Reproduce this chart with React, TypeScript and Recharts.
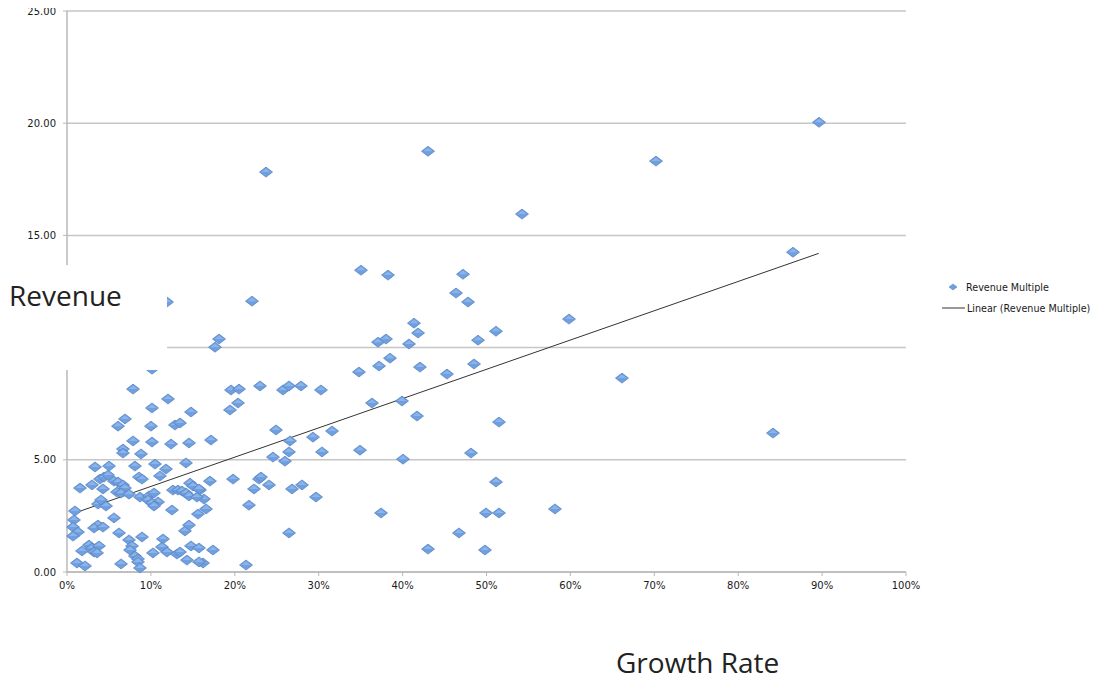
import React from "react";
import {
  ScatterChart,
  Scatter,
  XAxis,
  YAxis,
  CartesianGrid,
  ReferenceLine,
  Legend,
} from "recharts";

// Growth rate (%) of each company
const growthRate: number[] = [
  23.72, 43.03, 70.2, 89.63, 54.23, 86.53, 35.04, 38.26, 47.2, 46.37,
  47.8, 22.05, 11.92, 41.36, 59.83, 51.13, 41.84, 37.07, 38.02, 18.12,
  17.64, 40.76, 48.99, 38.5, 42.07, 37.19, 48.51, 45.29, 34.8, 66.15,
  10.13, 19.55, 20.5, 23.0, 25.74, 26.46, 27.89, 30.27, 20.38, 19.43,
  36.35, 39.93, 41.72, 51.49, 17.16, 24.91, 26.58, 29.32, 31.59, 26.46,
  30.39, 34.92, 24.55, 25.98, 40.05, 48.15, 17.04, 19.79, 22.88, 23.12,
  22.29, 24.08, 26.82, 28.01, 29.68, 51.13, 15.85, 16.33, 16.57, 21.69,
  37.43, 49.94, 51.49, 26.46, 46.72, 43.03, 49.82, 17.4, 16.21, 21.34,
  84.15, 58.16, 7.87, 12.04, 10.13, 14.78, 6.91, 6.08, 12.87, 13.47,
  10.01, 14.54, 12.4, 7.87, 6.67, 6.67, 8.82, 10.13, 14.18, 3.34,
  5.01, 8.1, 10.49, 11.8, 1.55, 2.98, 3.93, 4.41, 4.89, 5.6,
  6.08, 6.67, 6.91, 8.58, 8.94, 11.08, 4.29, 5.96, 6.44, 3.69,
  4.05, 4.65, 7.39, 8.7, 9.77, 10.37, 10.85, 9.65, 10.13, 10.37,
  12.63, 13.23, 13.71, 14.18, 14.66, 15.02, 15.73, 14.54, 15.49, 12.51,
  0.95, 0.83, 0.72, 1.31, 0.72, 3.69, 3.22, 4.29, 5.6, 6.2,
  8.94, 14.06, 15.61, 14.54, 1.79, 2.62, 2.98, 3.81, 3.22, 3.58,
  1.19, 2.15, 6.44, 7.39, 7.75, 7.51, 8.1, 8.46, 8.46, 8.7,
  10.25, 11.44, 11.32, 11.92, 13.11, 13.47, 14.78, 15.73, 14.3, 15.73,
];

// Revenue multiple of each company
const revenueMultiple: number[] = [
  17.82, 18.75, 18.31, 20.04, 15.95, 14.25, 13.45, 13.23, 13.27, 12.43,
  12.03, 12.07, 12.03, 11.09, 11.27, 10.73, 10.65, 10.24, 10.38, 10.38,
  10.02, 10.16, 10.33, 9.53, 9.13, 9.18, 9.27, 8.82, 8.91, 8.64,
  9.04, 8.11, 8.15, 8.29, 8.11, 8.29, 8.29, 8.11, 7.53, 7.22,
  7.53, 7.62, 6.95, 6.68, 5.88, 6.33, 5.84, 6.01, 6.28, 5.35,
  5.35, 5.43, 5.12, 4.94, 5.03, 5.3, 4.05, 4.14, 4.14, 4.23,
  3.7, 3.88, 3.7, 3.88, 3.34, 4.01, 3.65, 3.25, 2.81, 2.98,
  2.63, 2.63, 2.63, 1.74, 1.74, 1.02, 0.98, 0.98, 0.4, 0.31,
  6.19, 2.81, 8.15, 7.71, 7.31, 7.13, 6.82, 6.5, 6.55, 6.64,
  6.5, 5.75, 5.7, 5.84, 5.48, 5.3, 5.26, 5.79, 4.86, 4.68,
  4.72, 4.72, 4.81, 4.59, 3.74, 3.88, 4.14, 4.23, 4.32, 4.05,
  4.01, 3.88, 3.74, 4.23, 4.14, 4.28, 3.7, 3.56, 3.52, 3.03,
  3.21, 2.94, 3.47, 3.34, 3.39, 3.52, 3.12, 3.21, 3.07, 2.94,
  3.65, 3.65, 3.61, 3.52, 3.96, 3.83, 3.7, 3.39, 3.34, 2.76,
  2.72, 2.32, 2.0, 1.78, 1.6, 2.09, 1.96, 2.0, 2.41, 1.74,
  1.56, 1.83, 2.58, 2.09, 0.94, 1.2, 1.07, 1.16, 0.89, 0.85,
  0.4, 0.27, 0.36, 1.43, 1.16, 0.98, 0.71, 0.58, 0.45, 0.18,
  0.85, 1.47, 1.11, 0.89, 0.8, 0.89, 1.16, 1.07, 0.53, 0.45,
];

// Linear trendline end points (growth %, multiple)
const trendGrowth: number[] = [0.7, 89.6];
const trendMultiple: number[] = [2.6, 14.2];

const xTicks: number[] = [0, 10, 20, 30, 40, 50, 60, 70, 80, 90, 100];
const yTicks: number[] = [0, 5, 10, 15, 20, 25];

const seriesName = "Revenue Multiple";
const trendName = "Linear (Revenue Multiple)";

const points = growthRate.map((g, i) => ({ growth: g, multiple: revenueMultiple[i] }));

const Diamond = (props: any) => {
  const { cx, cy } = props;
  if (cx == null || cy == null) return <g />;
  const w = 6.5;
  const h = 5;
  return (
    <g>
      <polygon
        points={`${cx - w},${cy} ${cx},${cy - h} ${cx + w},${cy} ${cx},${cy + h}`}
        fill="#6f9fdf"
        stroke="#5a87c4"
        strokeWidth={0.8}
      />
      <polygon
        points={`${cx - w + 2},${cy} ${cx},${cy - h + 1.4} ${cx + w - 2},${cy}`}
        fill="#8ab4ea"
      />
    </g>
  );
};

const tickStyle = { fontFamily: "DejaVu Sans", fontSize: 10, fill: "#1a1a1a" };

const legendText = { fontFamily: "DejaVu Sans", fontSize: 9.6, fill: "#1a1a1a" };

const renderLegend = () => (
  <svg width={156} height={44}>
    <polygon points="11,9 15,6 19,9 15,12" fill="#6f9fdf" stroke="#5a87c4" strokeWidth={0.6} />
    <text x={28} y={9} dominantBaseline="central" style={legendText}>
      {seriesName}
    </text>
    <line x1={4} x2={27} y1={30} y2={30} stroke="#333" strokeWidth={1} />
    <text x={29} y={30} dominantBaseline="central" style={legendText}>
      {trendName}
    </text>
  </svg>
);

export default function App() {
  return (
    <div style={{ position: "relative", width: 1086, height: 670, marginTop: -5 }}>
      <ScatterChart
        width={1086}
        height={670}
        margin={{ top: 8, right: 188, bottom: 71, left: 0 }}
      >
        <CartesianGrid horizontal vertical={false} stroke="#c6c6c6" strokeWidth={1.5} />
        <XAxis
          type="number"
          dataKey="growth"
          domain={[0, 100]}
          ticks={xTicks}
          interval={0}
          tickFormatter={(v: number) => `${v}%`}
          tick={tickStyle}
          tickSize={4}
          tickMargin={6}
          height={30}
          axisLine={{ stroke: "#b8b8b8", strokeWidth: 1.5 }}
          tickLine={{ stroke: "#b8b8b8" }}
        />
        <YAxis
          type="number"
          dataKey="multiple"
          domain={[0, 25]}
          ticks={yTicks}
          interval={0}
          tickFormatter={(v: number) => v.toFixed(2)}
          tick={tickStyle}
          tickSize={4}
          tickMargin={7}
          width={59}
          axisLine={{ stroke: "#b8b8b8", strokeWidth: 1.5 }}
          tickLine={{ stroke: "#b8b8b8" }}
        />
        <Scatter
          name={seriesName}
          data={points}
          shape={Diamond}
          isAnimationActive={false}
        />
        <ReferenceLine
          segment={[
            { x: trendGrowth[0], y: trendMultiple[0] },
            { x: trendGrowth[1], y: trendMultiple[1] },
          ]}
          stroke="#333"
          strokeWidth={1}
          ifOverflow="visible"
        />
        <Legend
          layout="vertical"
          align="center"
          verticalAlign="middle"
          content={renderLegend}
          wrapperStyle={{ left: 930, top: 275, width: 156, height: 44 }}
        />
      </ScatterChart>
      <div
        style={{
          position: "absolute",
          left: -8,
          top: 262,
          width: 167,
          height: 105,
          background: "#fff",
        }}
      >
        <span
          style={{
            position: "absolute",
            left: 9,
            top: 16,
            fontFamily: "Open Sans",
            fontSize: 28,
            lineHeight: "28px",
            color: "#222",
            whiteSpace: "nowrap",
          }}
        >
          Revenue
        </span>
      </div>
      <span
        style={{
          position: "absolute",
          left: 608,
          top: 645,
          fontFamily: "Open Sans",
          fontSize: 28,
          lineHeight: "28px",
          color: "#222",
          whiteSpace: "nowrap",
        }}
      >
        Growth Rate
      </span>
    </div>
  );
}
